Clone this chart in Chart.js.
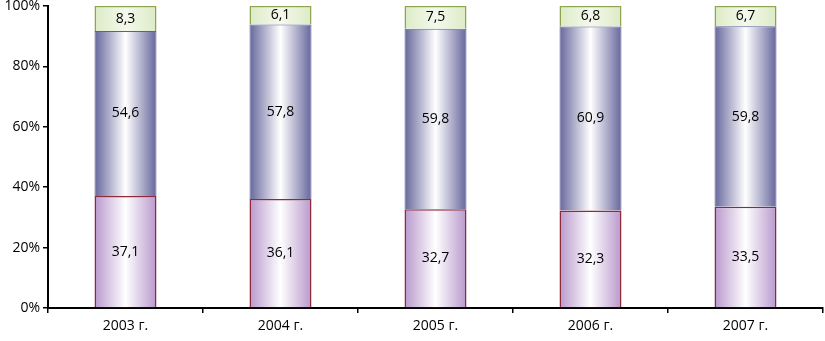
<!DOCTYPE html>
<html>
<head>
<meta charset="utf-8">
<script src="https://cdn.jsdelivr.net/npm/chart.js@4/dist/chart.umd.min.js"></script>
<style>
  html, body { margin: 0; padding: 0; background: #fff; }
  #wrap { width: 825px; height: 341px; }
</style>
</head>
<body>
<div id="wrap"><canvas id="chart"></canvas></div>
<script>
// Data
const years = ['2003 г.', '2004 г.', '2005 г.', '2006 г.', '2007 г.'];
const bottomValues = [37.1, 36.1, 32.7, 32.3, 33.5];
const middleValues = [54.6, 57.8, 59.8, 60.9, 59.8];
const topValues = [8.3, 6.1, 7.5, 6.8, 6.7];

const BAR_PCT = 0.4;

// horizontal gradient across each bar (edge colour -> centre colour -> edge colour)
function barGradient(edge, centre, fallback) {
  return function(ctx) {
    const chart = ctx.chart;
    const area = chart.chartArea;
    if (!area || ctx.dataIndex === undefined) return fallback;
    const xs = chart.scales.x;
    const cx = xs.getPixelForValue(ctx.dataIndex);
    const w = (area.width / years.length) * BAR_PCT;
    const g = chart.ctx.createLinearGradient(cx - w / 2, 0, cx + w / 2, 0);
    g.addColorStop(0, edge);
    g.addColorStop(0.5, centre);
    g.addColorStop(1, edge);
    return g;
  };
}

// draw value labels in the middle of each segment
const valueLabels = {
  id: 'valueLabels',
  afterDatasetsDraw(chart) {
    const c = chart.ctx;
    c.save();
    c.font = '14px "Open Sans", sans-serif';
    c.fillStyle = '#000';
    c.textAlign = 'center';
    c.textBaseline = 'middle';
    chart.data.datasets.forEach((ds, i) => {
      chart.getDatasetMeta(i).data.forEach((bar, j) => {
        const p = bar.getCenterPoint();
        c.fillText(String(ds.data[j]).replace('.', ','), p.x, p.y);
      });
    });
    c.restore();
  }
};

new Chart(document.getElementById('chart'), {
  type: 'bar',
  data: {
    labels: years,
    datasets: [
      {
        data: bottomValues,
        backgroundColor: barGradient('#b898cc', '#ffffff', '#e4d6ec'),
        borderColor: '#8e2a3c',
        borderWidth: 1.5,
      },
      {
        data: middleValues,
        backgroundColor: barGradient('#66669c', '#ffffff', '#c0c0d8'),
        borderColor: '#5e5e94',
        borderWidth: 1,
      },
      {
        data: topValues,
        backgroundColor: barGradient('#dcebc6', '#f4f9ec', '#eaf4de'),
        borderColor: '#8ea44e',
        borderWidth: 1.5,
      },
    ],
  },
  options: {
    responsive: true,
    maintainAspectRatio: false,
    animation: false,
    layout: { padding: { top: 6, right: 2, left: 0, bottom: 0 } },
    datasets: {
      bar: {
        barPercentage: BAR_PCT,
        categoryPercentage: 1.0,
      },
    },
    plugins: {
      legend: { display: false },
      tooltip: { enabled: false },
    },
    scales: {
      x: {
        stacked: true,
        afterFit(scale) { scale.height = 33; },
        grid: {
          display: true,
          drawOnChartArea: false,
          drawTicks: true,
          tickLength: 5,
          color: '#000',
          lineWidth: 1.5,
        },
        border: { color: '#000', width: 2 },
        ticks: {
          color: '#000',
          font: { family: '"Open Sans", sans-serif', size: 14 },
          padding: 5,
        },
      },
      y: {
        stacked: true,
        min: 0,
        max: 100,
        afterFit(scale) {
          scale.width = 48;
          scale.paddingTop = 0;
        },
        grid: {
          display: true,
          drawOnChartArea: false,
          drawTicks: true,
          tickLength: 5,
          color: '#000',
          lineWidth: 1.5,
        },
        border: { color: '#000', width: 2 },
        ticks: {
          stepSize: 20,
          color: '#000',
          font: { family: '"Open Sans", sans-serif', size: 14 },
          padding: 3,
          callback: v => v + '%',
        },
      },
    },
  },
  plugins: [valueLabels],
});
</script>
</body>
</html>
